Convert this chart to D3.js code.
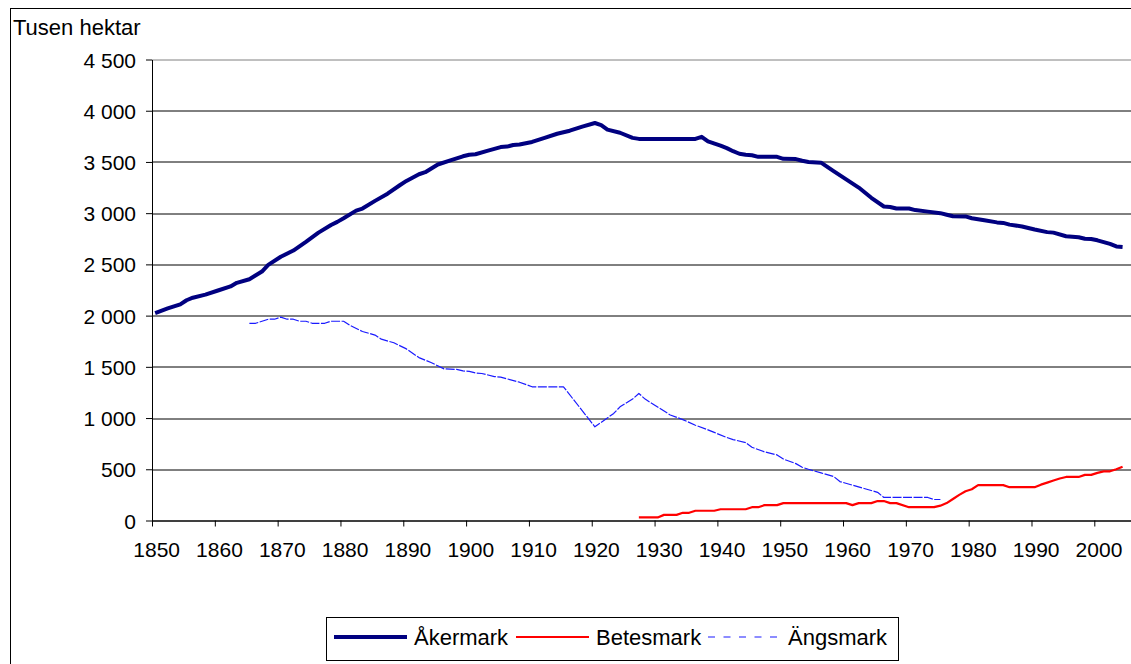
<!DOCTYPE html>
<html>
<head>
<meta charset="utf-8">
<script src="https://cdn.jsdelivr.net/npm/d3@7"></script>
<style>
  body { margin: 0; background: #fff; }
  svg text { font-family: "Liberation Sans", Arial, sans-serif; fill: #000; }
  .axis text { font-size: 21px; }
  .legend-text { font-size: 22px; }
</style>
</head>
<body>
<div id="chart"></div>
<script>
// Land use in Sweden, thousands of hectares
const akermark = [
  [1850, 2025], [1852, 2070], [1854, 2110], [1855, 2150], [1856, 2175],
  [1858, 2205], [1860, 2245], [1862, 2285], [1863, 2320], [1865, 2355],
  [1867, 2430], [1868, 2495], [1870, 2575], [1872, 2635], [1874, 2720],
  [1876, 2810], [1878, 2885], [1879, 2915], [1880, 2950], [1882, 3025],
  [1883, 3045], [1885, 3120], [1887, 3190], [1889, 3275], [1890, 3315],
  [1892, 3380], [1893, 3400], [1895, 3475], [1897, 3515], [1899, 3555],
  [1900, 3570], [1901, 3575], [1903, 3610], [1905, 3645], [1906, 3650],
  [1907, 3665], [1908, 3670], [1910, 3695], [1912, 3735], [1914, 3775],
  [1916, 3805], [1918, 3845], [1920, 3880], [1921, 3860], [1922, 3815],
  [1924, 3785], [1926, 3735], [1927, 3725], [1936, 3725], [1937, 3745],
  [1938, 3700], [1940, 3660], [1941, 3635], [1942, 3605], [1943, 3580],
  [1944, 3570], [1945, 3565], [1946, 3550], [1949, 3550], [1950, 3530],
  [1952, 3528], [1953, 3512], [1954, 3500], [1956, 3493], [1958, 3410],
  [1960, 3330], [1962, 3250], [1964, 3150], [1966, 3065], [1967, 3060],
  [1968, 3045], [1970, 3045], [1971, 3030], [1973, 3015], [1975, 3000],
  [1976, 2985], [1977, 2970], [1979, 2968], [1980, 2950], [1982, 2930],
  [1984, 2910], [1985, 2905], [1986, 2888], [1988, 2870], [1990, 2840],
  [1992, 2815], [1993, 2810], [1995, 2775], [1997, 2765], [1998, 2750],
  [1999, 2748], [2000, 2735], [2002, 2700], [2003, 2675], [2004, 2670],
];

const betesmark = [
  [1927, 30], [1930, 30], [1931, 55], [1933, 55], [1934, 75], [1935, 75],
  [1936, 95], [1939, 95], [1940, 110], [1944, 110], [1945, 130], [1946, 130],
  [1947, 150], [1949, 150], [1950, 170], [1960, 170], [1961, 150], [1962, 170],
  [1964, 170], [1965, 190], [1966, 190], [1967, 170], [1968, 170], [1970, 130],
  [1974, 130], [1975, 145], [1976, 170], [1977, 210], [1978, 250], [1979, 285],
  [1980, 305], [1981, 345], [1985, 345], [1986, 325], [1990, 325], [1991, 350],
  [1992, 370], [1993, 390], [1994, 410], [1995, 425], [1997, 425], [1998, 445],
  [1999, 445], [2000, 465], [2001, 480], [2002, 480], [2003, 500], [2004, 525],
];

const angsmark = [
  [1865, 1925], [1866, 1925], [1868, 1965], [1869, 1965], [1870, 1985],
  [1871, 1965], [1872, 1965], [1873, 1945], [1874, 1945], [1875, 1925],
  [1877, 1925], [1878, 1945], [1880, 1945], [1881, 1905], [1883, 1845],
  [1885, 1810], [1886, 1770], [1888, 1735], [1890, 1675], [1892, 1590],
  [1894, 1540], [1896, 1480], [1898, 1475], [1899, 1460], [1900, 1455],
  [1901, 1440], [1902, 1435], [1904, 1405], [1905, 1400], [1908, 1350],
  [1910, 1305], [1915, 1305], [1920, 915], [1923, 1045], [1924, 1110],
  [1926, 1185], [1927, 1240], [1928, 1185], [1932, 1030], [1934, 985],
  [1936, 930], [1938, 885], [1939, 860], [1941, 810], [1942, 790],
  [1944, 760], [1945, 715], [1947, 670], [1949, 640], [1950, 600],
  [1952, 555], [1953, 520], [1954, 500], [1956, 465], [1958, 430],
  [1959, 380], [1961, 345], [1963, 310], [1965, 275], [1966, 225],
  [1973, 225], [1974, 205], [1975, 205],
];

const seriesNames = ["Åkermark", "Betesmark", "Ängsmark"];
const yTickValues = [0, 500, 1000, 1500, 2000, 2500, 3000, 3500, 4000, 4500];
const xTickYears = [1850, 1860, 1870, 1880, 1890, 1900, 1910, 1920, 1930, 1940,
  1950, 1960, 1970, 1980, 1990, 2000];
const yAxisTitle = "Tusen hektar";

class LandUseChart {
  constructor(_config) {
    this.config = {
      parentElement: _config.parentElement,
      containerWidth: 1131,
      containerHeight: 664,
      margin: { top: 59.5, left: 152, bottom: 143.5 },
      plotRight: 1132,
    };
    this.series = [
      { name: seriesNames[0], data: akermark, colour: "#000080", width: 4, dash: null, legendDash: null, legendLen: 73 },
      { name: seriesNames[1], data: betesmark, colour: "#ff0000", width: 2.2, dash: null, legendDash: null, legendLen: 73 },
      { name: seriesNames[2], data: angsmark, colour: "#1a1aff", width: 1.2, dash: "9,1.5", legendDash: "7,8.5", legendLen: 69 },
    ];
    this.initVis();
  }

  initVis() {
    let vis = this;
    const m = vis.config.margin;

    vis.height = vis.config.containerHeight - m.top - m.bottom;
    vis.width = vis.config.plotRight - m.left;

    // one category per year, 1850..2005, points in the middle of each
    vis.xScale = d3.scaleLinear().domain([1850, 2006]).range([0, vis.width]);
    vis.yScale = d3.scaleLinear().domain([0, 4500]).range([vis.height, 0]);

    const fmt = d3.formatLocale({ decimal: ",", thousands: " ", grouping: [3] }).format(",d");

    vis.svg = d3.select(vis.config.parentElement)
      .append("svg")
      .attr("width", vis.config.containerWidth)
      .attr("height", vis.config.containerHeight);

    // outer chart frame (runs past the picture edge)
    vis.svg.append("rect")
      .attr("x", 10.5).attr("y", 8.5)
      .attr("width", 1200).attr("height", 700)
      .attr("fill", "none").attr("stroke", "#000").attr("stroke-width", 1);

    vis.chart = vis.svg.append("g")
      .attr("transform", `translate(${m.left},${m.top})`);

    // gridlines
    vis.chart.append("g")
      .attr("class", "grid")
      .selectAll("line")
      .data(yTickValues)
      .join("line")
      .attr("x1", 0).attr("x2", vis.width)
      .attr("y1", (d) => Math.round(vis.yScale(d)) + 0.5)
      .attr("y2", (d) => Math.round(vis.yScale(d)) + 0.5)
      .attr("stroke", (d) => (d === 4500 ? "#808080" : "#000"))
      .attr("stroke-width", 1);

    vis.yAxis = d3.axisLeft(vis.yScale)
      .tickValues(yTickValues)
      .tickFormat(fmt)
      .tickSize(6)
      .tickSizeOuter(0)
      .tickPadding(10);

    vis.xAxis = d3.axisBottom(vis.xScale)
      .tickValues(xTickYears)
      .tickFormat(d3.format("d"))
      .tickSize(6)
      .tickSizeOuter(0)
      .tickPadding(16);

    vis.yAxisG = vis.chart.append("g").attr("class", "axis y-axis").call(vis.yAxis);
    vis.xAxisG = vis.chart.append("g")
      .attr("class", "axis x-axis")
      .attr("transform", `translate(0,${vis.height})`)
      .call(vis.xAxis);

    vis.yAxisG.selectAll("text").attr("dy", "0.36em");
    // labels sit in the middle of their year's category
    vis.xAxisG.selectAll("text")
      .attr("x", vis.xScale(1850.5) - vis.xScale(1850) + 1);
    vis.chart.selectAll(".axis path, .axis line").attr("stroke", "#000");

    vis.svg.append("text")
      .attr("x", 13)
      .attr("y", 35)
      .style("font-size", "22px")
      .text(yAxisTitle);

    vis.renderVis();
  }

  renderVis() {
    let vis = this;

    vis.line = d3.line()
      .x((d) => vis.xScale(d[0] + 0.5))
      .y((d) => vis.yScale(d[1]));

    // draw thin dashed series first, heavy one on top
    const drawOrder = [vis.series[2], vis.series[1], vis.series[0]];
    vis.chart.selectAll(".chart-line")
      .data(drawOrder)
      .join("path")
      .attr("class", "chart-line")
      .attr("d", (d) => vis.line(d.data))
      .attr("fill", "none")
      .attr("stroke", (d) => d.colour)
      .attr("stroke-width", (d) => d.width)
      .attr("stroke-dasharray", (d) => d.dash)
      .attr("stroke-linejoin", "round");

    // legend
    const legend = vis.svg.append("g").attr("class", "legend");
    legend.append("rect")
      .attr("x", 326.5).attr("y", 617.5)
      .attr("width", 572).attr("height", 43)
      .attr("fill", "#fff").attr("stroke", "#000");

    const itemX = [334, 516, 708];
    const items = legend.selectAll(".legend-item")
      .data(vis.series)
      .join("g")
      .attr("class", "legend-item")
      .attr("transform", (d, i) => `translate(${itemX[i]},637)`);

    items.append("line")
      .attr("x1", 0).attr("x2", (d) => d.legendLen)
      .attr("stroke", (d) => d.colour)
      .attr("stroke-width", (d) => d.width)
      .attr("stroke-dasharray", (d) => d.legendDash);

    items.append("text")
      .attr("class", "legend-text")
      .attr("x", 80)
      .attr("y", 8)
      .text((d) => d.name);
  }
}

new LandUseChart({ parentElement: "#chart" });
</script>
</body>
</html>
